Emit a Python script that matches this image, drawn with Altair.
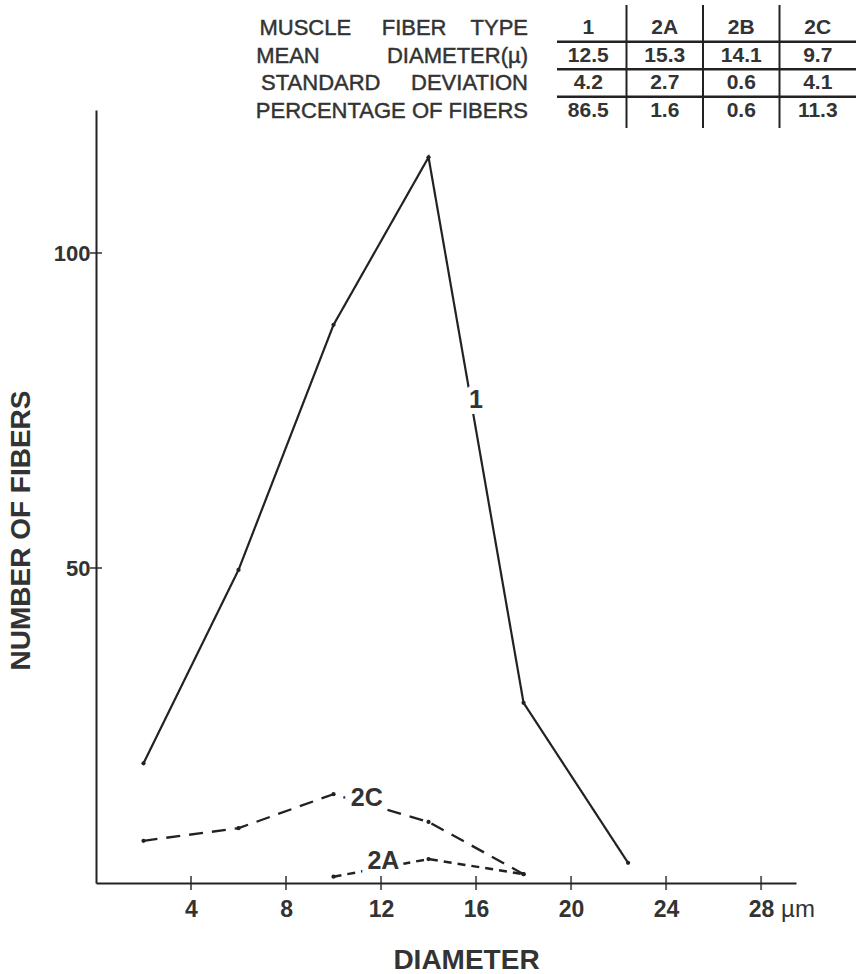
import altair as alt
import pandas as pd

# ---------------- data ----------------
diam_1 = [2, 6, 10, 14, 18, 22.4]
count_1 = [19.0, 49.7, 88.6, 115.2, 28.6, 3.2]
diam_2C = [2, 6, 10, 14, 18]
count_2C = [6.7, 8.7, 14.1, 9.7, 1.4]
diam_2A = [10, 14, 18]
count_2A = [1.0, 3.8, 1.4]

fiber_types = ["1", "2A", "2B", "2C"]
mean_diam = ["12.5", "15.3", "14.1", "9.7"]
std_dev = ["4.2", "2.7", "0.6", "4.1"]
pct_fibers = ["86.5", "1.6", "0.6", "11.3"]
NB = "\u00a0"
row_labels = ["MUSCLE" + NB * 4 + " FIBER" + NB * 3 + " TYPE",
              "MEAN" + NB * 10 + " DIAMETER(\u00b5)",
              "STANDARD" + NB * 4 + " DEVIATION",
              "PERCENTAGE OF FIBERS"]

x_ticks = [4, 8, 12, 16, 20, 24, 28]
y_ticks = [50, 100]

series_names = ["1", "2C", "2A"]

# ---------------- layout / style constants ----------------
INK = "#222222"
TXT = "#333333"
FONT = "Liberation Sans, Arial, sans-serif"
label_anchor_x = [16.0, 11.4, 12.1]
label_anchor_y = [76.7, 13.5, 3.5]

lines_df = pd.DataFrame({
    "diameter": diam_1 + diam_2C + diam_2A,
    "count": count_1 + count_2C + count_2A,
    "series": ["1"] * len(diam_1) + ["2C"] * len(diam_2C) + ["2A"] * len(diam_2A),
})

xscale = alt.Scale(domain=[0, 29.47], nice=False, zero=False)
yscale = alt.Scale(domain=[0, 122.7], nice=False)

x_axis = alt.Axis(values=x_ticks, title="DIAMETER", grid=False, ticks=False, tickSize=0,
                  domainColor=INK, domainWidth=2, labelFont=FONT, labelFontSize=23,
                  labelFontWeight="bold", labelColor=TXT, labelPadding=15,
                  titleFont=FONT, titleFontSize=28, titleFontWeight="bold", titleColor=TXT,
                  titleX=370, titleY=85, titleBaseline="alphabetic", labelFlush=False)
y_axis = alt.Axis(values=y_ticks, title="NUMBER OF FIBERS", grid=False, ticks=False, tickSize=0,
                  domainColor=INK, domainWidth=2, labelFont=FONT, labelFontSize=22,
                  labelFontWeight="bold", labelColor=TXT, labelPadding=6,
                  titleFont=FONT, titleFontSize=28, titleFontWeight="bold", titleColor=TXT,
                  titleAngle=270, titleX=-75, titleY=420, titleBaseline="middle",
                  titleAlign="center", labelFlush=False)

X = alt.X("diameter:Q", scale=xscale, axis=x_axis)
Y = alt.Y("count:Q", scale=yscale, axis=y_axis)

lines = alt.Chart(lines_df).mark_line(color=INK).encode(
    x=X, y=Y, detail="series:N",
    strokeDash=alt.StrokeDash("series:N", legend=None,
                              scale=alt.Scale(domain=series_names, range=[[1, 0], [14, 9], [8, 6]])),
    strokeWidth=alt.StrokeWidth("series:N", legend=None,
                                scale=alt.Scale(domain=series_names, range=[2.2, 2.5, 1.8])),
)
points = alt.Chart(lines_df).mark_circle(color=INK, size=18, opacity=1).encode(x=X, y=Y)

xt_df = pd.DataFrame({"diameter": x_ticks, "count": [0] * len(x_ticks)})
yt_df = pd.DataFrame({"diameter": [0] * len(y_ticks), "count": y_ticks})
xticks = alt.Chart(xt_df).mark_tick(orient="vertical", size=14, thickness=2, color=INK).encode(x=X, y=Y)
yticks = alt.Chart(yt_df).mark_tick(orient="horizontal", size=12, thickness=2, color=INK).encode(x=X, y=Y)

lab_df = pd.DataFrame({"diameter": label_anchor_x, "count": label_anchor_y, "label": series_names})
halo = alt.Chart(lab_df).mark_text(font=FONT, fontSize=25, fontWeight="bold", color="white",
                                   stroke="white", strokeWidth=12, baseline="middle").encode(
    x=X, y=Y, text="label:N")
labs = alt.Chart(lab_df).mark_text(font=FONT, fontSize=25, fontWeight="bold", color=TXT,
                                   baseline="middle").encode(x=X, y=Y, text="label:N")

unit_df = pd.DataFrame({"diameter": [28], "count": [0], "u": ["\u00b5m"]})
unit = alt.Chart(unit_df).mark_text(font=FONT, fontSize=24, color=TXT, align="left",
                                    baseline="alphabetic", dx=20, dy=34).encode(x=X, y=Y, text="u:N")

main = alt.layer(lines, points, xticks, yticks, halo, labs, unit)

# ---------------- table ----------------
cells = []
for r, vals in zip(row_labels, [fiber_types, mean_diam, std_dev, pct_fibers]):
    for c, v in zip(fiber_types, vals):
        cells.append({"row": r, "col": c, "txt": v})
cells_df = pd.DataFrame(cells)

tx = alt.Scale(type="band", domain=fiber_types, range=[454, 760], paddingInner=0, paddingOuter=0)
ty = alt.Scale(type="band", domain=row_labels, range=[-95.75, 14.25], paddingInner=0, paddingOuter=0)

cell_text = alt.Chart(cells_df).mark_text(font=FONT, fontSize=21, fontWeight="bold", color=TXT,
                                          baseline="middle").encode(
    x=alt.X("col:N", scale=tx, axis=None), y=alt.Y("row:N", scale=ty, axis=None), text="txt:N")

rl_df = pd.DataFrame({"row": row_labels, "col": [fiber_types[0]] * 4})
row_text = alt.Chart(rl_df).mark_text(font=FONT, fontSize=22, color=TXT, stroke=TXT,
                                      strokeWidth=0.45, align="right",
                                      baseline="middle", dx=-22).encode(
    x=alt.X("col:N", scale=tx, axis=None, bandPosition=0),
    y=alt.Y("row:N", scale=ty, axis=None), text="row:N")

hr_df = pd.DataFrame({"row": row_labels[:3]})
hrules = alt.Chart(hr_df).mark_rule(color=INK, strokeWidth=2.5).encode(
    y=alt.Y("row:N", scale=ty, axis=None, bandPosition=1),
    x=alt.value(461), x2=alt.value(760))

vr_df = pd.DataFrame({"col": fiber_types[1:]})
vrules = alt.Chart(vr_df).mark_rule(color=INK, strokeWidth=2).encode(
    x=alt.X("col:N", scale=tx, axis=None, bandPosition=0),
    y=alt.value(-105), y2=alt.value(18))

table = alt.layer(cell_text, row_text, hrules, vrules)

chart = alt.layer(main, table).resolve_scale(x="independent", y="independent").properties(
    width=700, height=773,
    padding={"left": 96, "top": 110, "right": 60, "bottom": 91},
    autosize=alt.AutoSizeParams(type="none"),
).configure_view(stroke=None)

chart.save("out.html", embed_options={"renderer": "svg", "actions": False})
